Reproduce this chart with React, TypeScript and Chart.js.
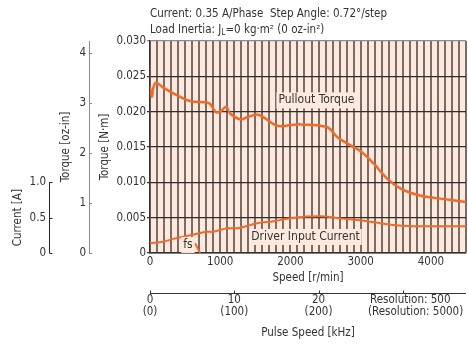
import React, { useEffect, useRef } from "react";
import { Chart, registerables } from "chart.js";

Chart.register(...registerables);

// ---------- data ----------
const torqueSpeed = [0, 28, 50, 85, 190, 333, 571, 810, 857, 929, 976, 1024, 1086, 1143, 1286, 1381, 1524, 1619, 1810, 2000, 2143, 2524, 2667, 2810, 3000, 3190, 3381, 3571, 3810, 4048, 4286, 4500];
const torqueNm = [0.0235, 0.0221, 0.0235, 0.0241, 0.0234, 0.0226, 0.0215, 0.0213, 0.0211, 0.0200, 0.0199, 0.0202, 0.0207, 0.0197, 0.0189, 0.0192, 0.0196, 0.0192, 0.0180, 0.0181, 0.0182, 0.0178, 0.0164, 0.0155, 0.0144, 0.0126, 0.0105, 0.0091, 0.0082, 0.0078, 0.0075, 0.0072];

const currentSpeed = [0, 190, 333, 571, 810, 905, 1095, 1238, 1524, 1762, 2048, 2429, 2714, 3095, 3429, 3762, 4500];
const currentA = [0.14, 0.16, 0.20, 0.25, 0.30, 0.30, 0.35, 0.35, 0.42, 0.45, 0.50, 0.52, 0.49, 0.45, 0.40, 0.38, 0.38];

const fsSpeed = [640, 714];
const fsNm = [0.0014, 0];

const speedTickLabels = [0, 1000, 2000, 3000, 4000];
const nmTicks = [0, 0.005, 0.01, 0.015, 0.02, 0.025, 0.03];
const ozTicks = [0, 1, 2, 3, 4];
const currentTicks = [0, 0.5, 1.0];
const pulseTicks = [0, 10, 20, 30];
const pulseTicks5000 = [0, 100, 200];

const SPEED_MAX = 4500;
const NM_MAX = 0.03;
const OZ_PER_NM = 1 / 0.00706155;
const A_PER_NM = 100;
const KHZ_PER_RPM = 500 / 60 / 1000;

const titleLine1 = "Current: 0.35 A/Phase  Step Angle: 0.72°/step";
const resolutionLines = ["Resolution: 500", "(Resolution: 5000)"];

const FONT = "'Liberation Sans Narrow', 'DejaVu Sans Condensed', 'Roboto Condensed', sans-serif";
const FS = 11.5;
const TXT = "#333333";
const ORANGE = "#f26a2a";
const PEACH = "#fde9dd";

const decorPlugin = {
  id: "decor",
  beforeDraw(chart: any) {
    const { ctx, chartArea: a } = chart;
    ctx.save();
    ctx.fillStyle = PEACH;
    ctx.fillRect(a.left, a.top, a.right - a.left, a.bottom - a.top);
    ctx.restore();
  },
  afterDraw(chart: any) {
    const { ctx, chartArea: a, scales } = chart;
    const x = scales.x, y = scales.y, yOz = scales.yOz, yCur = scales.yCur, xp = scales.xPulse;
    ctx.save();
    ctx.fillStyle = TXT;
    ctx.textBaseline = "middle";
    ctx.font = `${FS}px ${FONT}`;
    // title
    ctx.textAlign = "left";
    ctx.fillText(titleLine1, a.left, 14);
    let tx = a.left;
    const parts1 = "Load Inertia: J";
    ctx.fillText(parts1, tx, 30);
    tx += ctx.measureText(parts1).width;
    ctx.font = `8px ${FONT}`;
    ctx.fillText("L", tx, 33);
    tx += ctx.measureText("L").width;
    ctx.font = `${FS}px ${FONT}`;
    ctx.fillText("=0 kg·m² (0 oz-in²)", tx, 30);

    // oz-in ticks (pointing right)
    ctx.strokeStyle = "#888";
    ctx.lineWidth = 1;
    for (const v of ozTicks) {
      const py = Math.round(yOz.getPixelForValue(v)) + 0.5;
      ctx.beginPath();
      ctx.moveTo(yOz.right, py);
      ctx.lineTo(yOz.right + 3, py);
      ctx.stroke();
    }
    // current axis line
    ctx.strokeStyle = "#222";
    const cx = Math.round(yCur.right) - 0.5;
    const c0 = yCur.getPixelForValue(currentTicks[0]);
    const c1 = yCur.getPixelForValue(currentTicks[currentTicks.length - 1]);
    ctx.beginPath();
    ctx.moveTo(cx, c0);
    ctx.lineTo(cx, c1);
    ctx.stroke();
    for (const v of currentTicks) {
      const py = Math.round(yCur.getPixelForValue(v)) + 0.5;
      ctx.beginPath();
      ctx.moveTo(cx, py);
      ctx.lineTo(cx + 3, py);
      ctx.stroke();
    }
    // current title
    ctx.save();
    ctx.translate(18, (c0 + c1) / 2);
    ctx.rotate(-Math.PI / 2);
    ctx.textAlign = "center";
    ctx.fillText("Current [A]", 0, 0);
    ctx.restore();

    // pulse axis line
    const py0 = Math.round(xp.top + 6) + 0.5;
    ctx.strokeStyle = "#333";
    ctx.beginPath();
    ctx.moveTo(a.left, py0);
    ctx.lineTo(a.right, py0);
    ctx.stroke();
    for (const v of pulseTicks) {
      const px = Math.round(xp.getPixelForValue(v)) + 0.5;
      ctx.beginPath();
      ctx.moveTo(px, py0);
      ctx.lineTo(px, py0 - 3);
      ctx.stroke();
    }
    ctx.textAlign = "left";
    ctx.fillText(resolutionLines[0], 370, 300);
    ctx.fillText(resolutionLines[1], 368, 312);

    // in-plot labels
    const label = (text: string, sx: number, vy: number) => {
      const px = x.getPixelForValue(sx);
      const pyy = y.getPixelForValue(vy);
      ctx.font = `12px ${FONT}`;
      const w = ctx.measureText(text).width;
      ctx.fillStyle = PEACH;
      ctx.fillRect(px - w / 2 - 2, pyy - 8, w + 4, 16);
      ctx.fillStyle = TXT;
      ctx.textAlign = "center";
      ctx.fillText(text, px, pyy);
    };
    label("Pullout Torque", 2370, 0.0216);
    label("Driver Input Current", 2214, 0.00227);
    label("fs", 540, 0.00114);
    ctx.restore();
  },
};

export default function App() {
  const ref = useRef<HTMLCanvasElement>(null);
  useEffect(() => {
    if (!ref.current) return;
    Chart.defaults.font.family = FONT;
    Chart.defaults.color = TXT;
    const tickFont = { size: FS, family: FONT };
    const titleFont = { size: FS, family: FONT };
    const chart = new Chart(ref.current, {
      type: "line",
      data: {
        datasets: [
          {
            data: torqueSpeed.map((s, i) => ({ x: s, y: torqueNm[i] })),
            borderColor: ORANGE,
            borderWidth: 2.5,
            pointRadius: 0,
            tension: 0.35,
            yAxisID: "y",
            xAxisID: "x",
          },
          {
            data: currentSpeed.map((s, i) => ({ x: s, y: currentA[i] })),
            borderColor: ORANGE,
            borderWidth: 2,
            pointRadius: 0,
            tension: 0.35,
            yAxisID: "yCur",
            xAxisID: "x",
          },
          {
            data: fsSpeed.map((s, i) => ({ x: s, y: fsNm[i] })),
            borderColor: ORANGE,
            borderWidth: 2,
            pointRadius: 0,
            yAxisID: "y",
            xAxisID: "x",
          },
        ],
      },
      options: {
        animation: false,
        responsive: false,
        layout: { padding: { left: 0, right: 1, top: 41, bottom: 0 } },
        plugins: { legend: { display: false }, tooltip: { enabled: false } },
        scales: {
          x: {
            type: "linear",
            position: "bottom",
            weight: 0,
            min: 0,
            max: SPEED_MAX,
            ticks: {
              stepSize: 100,
              autoSkip: false,
              maxRotation: 0,
              padding: 2,
              font: tickFont,
              color: TXT,
              callback: (v: any) => (speedTickLabels.includes(v) ? String(v) : ""),
            },
            grid: {
              drawTicks: false,
              color: (c: any) => (c.tick && c.tick.value === 0 ? "#333" : "#7a6d66"),
              lineWidth: (c: any) => (c.tick && c.tick.value === 0 ? 1.5 : 2),
            },
            border: { display: true, color: "#333", width: 1.5 },
            title: { display: true, text: "Speed [r/min]", font: titleFont, color: TXT, padding: { top: 0, bottom: 2 } },
            afterFit: (s: any) => { s.height = 34; },
          },
          xPulse: {
            type: "linear",
            position: "bottom",
            weight: 1,
            min: 0,
            max: SPEED_MAX * KHZ_PER_RPM,
            afterBuildTicks: (s: any) => { s.ticks = pulseTicks.map((v) => ({ value: v })); },
            ticks: {
              autoSkip: false,
              maxRotation: 0,
              padding: 7,
              font: { size: FS, family: FONT, lineHeight: 1.04 },
              color: TXT,
              callback: (v: any, i: number) => (i < pulseTicks5000.length ? [String(v), `(${pulseTicks5000[i]})`] : ""),
            },
            grid: { display: false, drawTicks: false },
            border: { display: false },
            title: { display: true, text: "Pulse Speed [kHz]", font: titleFont, color: TXT, padding: { top: 0, bottom: 4 } },
            afterFit: (s: any) => { s.height = 57; },
          },
          y: {
            type: "linear",
            position: "left",
            weight: 0,
            min: 0,
            max: NM_MAX,
            afterBuildTicks: (s: any) => { s.ticks = nmTicks.map((v) => ({ value: v })); },
            ticks: {
              padding: 1,
              font: tickFont,
              color: TXT,
              callback: (v: any) => (v === 0 ? "0" : Number(v).toFixed(3)),
            },
            grid: {
              tickLength: 3,
              color: (c: any) => (c.tick && c.tick.value === NM_MAX ? "#8a8a8a" : "#2e2e2e"),
              lineWidth: 1.3,
            },
            border: { display: true, color: "#333", width: 1.5 },
            title: { display: true, text: "Torque [N·m]", font: titleFont, color: TXT, padding: { top: 9, bottom: 0 } },
            afterFit: (s: any) => { s.width = 61; },
          },
          yOz: {
            type: "linear",
            position: "left",
            weight: 1,
            min: 0,
            max: NM_MAX * OZ_PER_NM,
            afterBuildTicks: (s: any) => { s.ticks = ozTicks.map((v) => ({ value: v })); },
            ticks: { padding: 3, font: tickFont, color: TXT, callback: (v: any) => String(v) },
            grid: { display: false, drawTicks: false },
            border: { display: true, color: "#8a8a8a", width: 1 },
            title: { display: true, text: "Torque [oz-in]", font: titleFont, color: TXT, padding: { top: 9, bottom: 0 } },
            afterFit: (s: any) => { s.width = 39; },
          },
          yCur: {
            type: "linear",
            position: "left",
            weight: 2,
            min: 0,
            max: NM_MAX * A_PER_NM,
            afterBuildTicks: (s: any) => { s.ticks = currentTicks.map((v) => ({ value: v })); },
            ticks: { padding: 4, font: tickFont, color: TXT, callback: (v: any) => (v === 0 ? "0" : Number(v).toFixed(1)) },
            grid: { display: false, drawTicks: false },
            border: { display: false },
            title: { display: false },
            afterFit: (s: any) => { s.width = 50; },
          },
        },
      } as any,
      plugins: [decorPlugin],
    });
    return () => chart.destroy();
  }, []);
  return (
    <div style={{ position: "fixed", left: 0, top: 0, width: 468, height: 344, background: "#fff" }}>
      <canvas ref={ref} width={468} height={344} style={{ display: "block" }} />
    </div>
  );
}
